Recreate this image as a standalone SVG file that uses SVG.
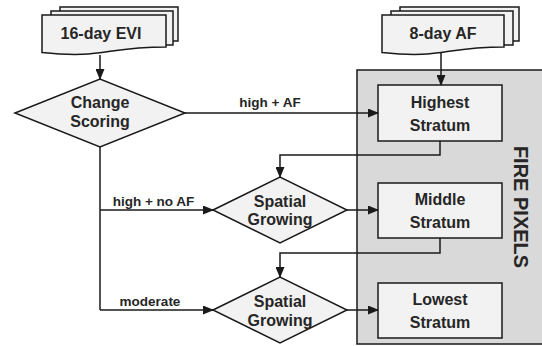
<svg xmlns="http://www.w3.org/2000/svg" width="542" height="346" viewBox="0 0 542 346">
<defs>
<style>
.shape{fill:#f2f2f2;stroke:#1a1a1a;stroke-width:1.5}
.panel{fill:#d9d9d9;stroke:#1a1a1a;stroke-width:1.5}
.conn{fill:none;stroke:#1a1a1a;stroke-width:1.5}
text{font-family:"Liberation Sans",Arial,sans-serif;font-weight:bold;fill:#262626;text-anchor:middle}
.node{font-size:16px}
.lbl{font-size:13.5px}
.big{font-size:20px}
</style>
<marker id="arr" markerUnits="userSpaceOnUse" markerWidth="11" markerHeight="9" refX="10" refY="4.5" orient="auto">
<path d="M0,0 L11,4.5 L0,9 Z" fill="#1a1a1a"/>
</marker>
</defs>
<g id="fire-pixels">
<rect class="panel" x="357" y="70" width="190" height="274"/>
<text class="big" transform="translate(521,207) rotate(90)" dominant-baseline="central">FIRE PIXELS</text>
</g>
<g id="evi">
<rect class="shape" x="60" y="7" width="118" height="34"/>
<rect class="shape" x="51" y="11" width="122" height="34"/>
<path class="shape" d="M42,15 H166 V47 C104,47 104,59 42,52.5 Z"/>
<text class="node" x="101" y="39">16-day EVI</text>
</g>
<g id="af">
<rect class="shape" x="400" y="7" width="119" height="34"/>
<rect class="shape" x="391" y="11" width="122" height="34"/>
<path class="shape" d="M382,15 H504 V47 C443,47 443,59 382,52.5 Z"/>
<text class="node" x="443" y="39">8-day AF</text>
</g>
<g id="change-scoring">
<path class="shape" d="M15,113 L100,79 L185,113 L100,147 Z"/>
<text class="node" x="100" y="107.5">Change</text>
<text class="node" x="100" y="126.5">Scoring</text>
</g>
<g id="highest">
<rect class="shape" x="378" y="85" width="124" height="56"/>
<text class="node" x="440" y="108">Highest</text>
<text class="node" x="440" y="130.5">Stratum</text>
</g>
<g id="middle">
<rect class="shape" x="378" y="183" width="124" height="55"/>
<text class="node" x="440" y="205">Middle</text>
<text class="node" x="440" y="228">Stratum</text>
</g>
<g id="lowest">
<rect class="shape" x="378" y="283" width="124" height="55"/>
<text class="node" x="440" y="305">Lowest</text>
<text class="node" x="440" y="328">Stratum</text>
</g>
<g id="spatial-growing-1">
<path class="shape" d="M213,210 L280,177 L347,210 L280,243 Z"/>
<text class="node" x="280" y="206.5">Spatial</text>
<text class="node" x="280" y="225">Growing</text>
</g>
<g id="spatial-growing-2">
<path class="shape" d="M213,310 L280,277 L347,310 L280,343 Z"/>
<text class="node" x="280" y="306.5">Spatial</text>
<text class="node" x="280" y="325.5">Growing</text>
</g>
<g id="connectors">
<path class="conn" d="M100,55 V79" marker-end="url(#arr)"/>
<path class="conn" d="M441,53 V85" marker-end="url(#arr)"/>
<path class="conn" d="M185,113 H378" marker-end="url(#arr)"/>
<path class="conn" d="M440,141 V155 H280 V177" marker-end="url(#arr)"/>
<path class="conn" d="M100,147 V310"/>
<path class="conn" d="M100,210 H213" marker-end="url(#arr)"/>
<path class="conn" d="M100,310 H213" marker-end="url(#arr)"/>
<path class="conn" d="M347,210 H378" marker-end="url(#arr)"/>
<path class="conn" d="M440,238 V253 H280 V277" marker-end="url(#arr)"/>
<path class="conn" d="M347,310 H378" marker-end="url(#arr)"/>
<text class="lbl" x="270" y="107">high + AF</text>
<text class="lbl" x="153.5" y="206">high + no AF</text>
<text class="lbl" x="150" y="306">moderate</text>
</g>
</svg>
